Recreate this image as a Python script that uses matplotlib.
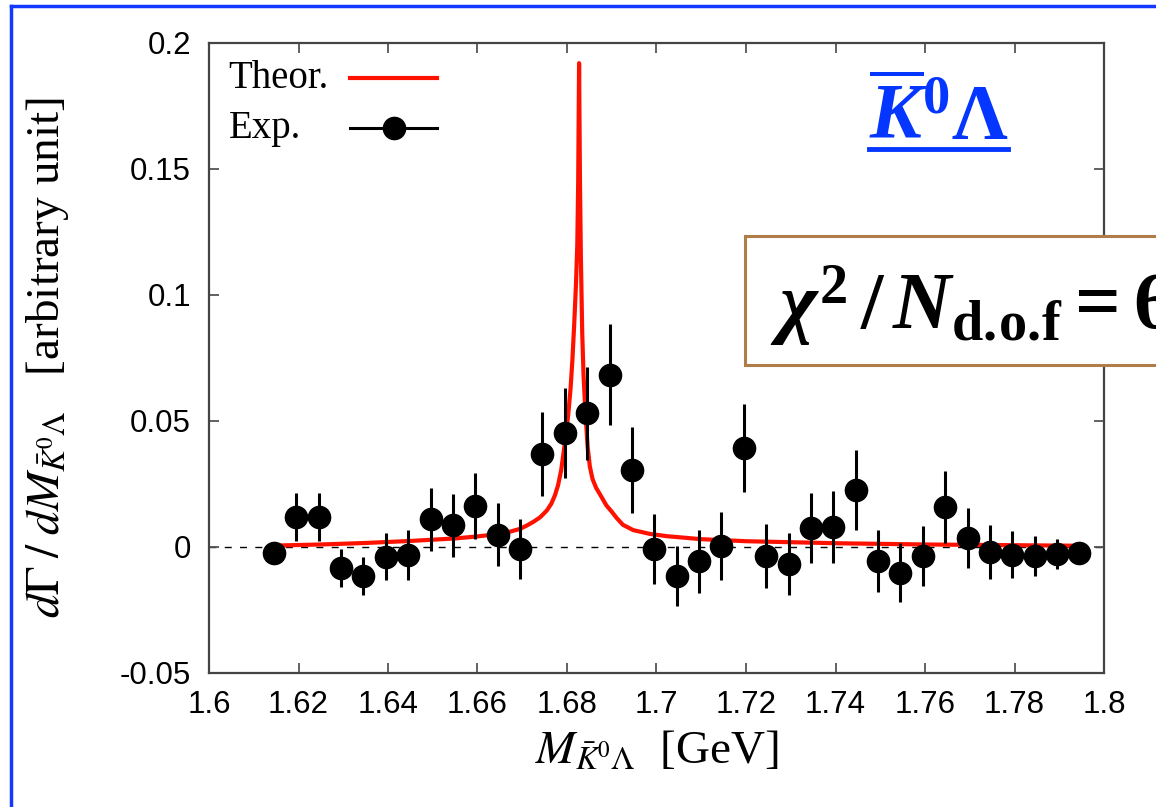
import numpy as np
import matplotlib
matplotlib.use("Agg")
import matplotlib.pyplot as plt
from matplotlib.lines import Line2D
from matplotlib.patches import Rectangle

# experimental points (bin centres in GeV)
m_exp = [1.6145, 1.6195, 1.6245, 1.6295, 1.6345, 1.6395, 1.6445, 1.6495,
         1.6545, 1.6595, 1.6645, 1.6695, 1.6745, 1.6795, 1.6845, 1.6895,
         1.6945, 1.6995, 1.7045, 1.7095, 1.7145, 1.7195, 1.7245, 1.7295,
         1.7345, 1.7395, 1.7445, 1.7495, 1.7545, 1.7595, 1.7645, 1.7695,
         1.7745, 1.7795, 1.7845, 1.7895, 1.7945]
dgam_exp = [-0.0024, 0.0119, 0.0119, -0.0083, -0.0115, -0.0039, -0.0032, 0.0111,
            0.0087, 0.0163, 0.0048, -0.0008, 0.0369, 0.0452, 0.0531, 0.0683,
            0.0306, -0.0008, -0.0115, -0.0056, 0.0004, 0.0392, -0.0035, -0.0068,
            0.0075, 0.0080, 0.0226, -0.0056, -0.0103, -0.0036, 0.0159, 0.0036,
            -0.0020, -0.0030, -0.0036, -0.0028, -0.0024]
err_exp = [0.0040, 0.0097, 0.0097, 0.0075, 0.0075, 0.0093, 0.0099, 0.0125,
           0.0125, 0.0130, 0.0125, 0.0120, 0.0168, 0.0178, 0.0185, 0.0200,
           0.0170, 0.0140, 0.0120, 0.0125, 0.0135, 0.0175, 0.0127, 0.0124,
           0.0140, 0.0143, 0.0160, 0.0123, 0.0117, 0.0120, 0.0142, 0.0120,
           0.0106, 0.0094, 0.0080, 0.0060, 0.0040]

# theoretical line shape
m_th = [1.6155, 1.625, 1.635, 1.645, 1.655, 1.660, 1.665, 1.6675, 1.6695,
        1.671, 1.6725, 1.674, 1.6755, 1.6765, 1.6773, 1.678, 1.6787, 1.6792,
        1.6798, 1.6803, 1.6808, 1.6812, 1.6816, 1.6820, 1.6823, 1.6825, 1.6827,
        1.6829, 1.6831, 1.6834, 1.6837, 1.6841, 1.6846, 1.6851, 1.6857, 1.6865,
        1.6875, 1.6888, 1.6900, 1.6911, 1.6925, 1.6948, 1.6985, 1.7023,
        1.710, 1.720, 1.740, 1.760, 1.7945]
dgam_th = [0.0006, 0.0010, 0.0016, 0.0024, 0.0034, 0.0042, 0.0052, 0.0062, 0.0072,
           0.0085, 0.0100, 0.0118, 0.0145, 0.0172, 0.0205, 0.0245, 0.0305, 0.0370,
           0.0450, 0.0530, 0.0630, 0.0740, 0.0880, 0.1040, 0.1200, 0.1450, 0.1920,
           0.1450, 0.1150, 0.0850, 0.0680, 0.0540, 0.0400, 0.0320, 0.0270, 0.0235,
           0.0205, 0.0165, 0.0140, 0.0115, 0.0088, 0.0067, 0.0052, 0.0043,
           0.0031, 0.0023, 0.0015, 0.0010, 0.0005]

xticks = [1.6, 1.62, 1.64, 1.66, 1.68, 1.7, 1.72, 1.74, 1.76, 1.78, 1.8]
xticklabels = ['1.6', '1.62', '1.64', '1.66', '1.68', '1.7', '1.72', '1.74', '1.76', '1.78', '1.8']
yticks = [-0.05, 0, 0.05, 0.1, 0.15, 0.2]
yticklabels = ['-0.05', '0', '0.05', '0.1', '0.15', '0.2']
legend_labels = ['Theor.', 'Exp.']

plt.rcParams['mathtext.fontset'] = 'stix'
plt.rcParams['mathtext.rm'] = 'Liberation Serif:bold'
plt.rcParams['mathtext.it'] = 'Liberation Serif:italic:bold'
plt.rcParams['mathtext.bf'] = 'Liberation Serif:bold'

W, H = 1156, 807
RED = '#ff1100'
fig = plt.figure(figsize=(W / 100, H / 100), dpi=100)
ax = fig.add_axes([209 / W, 1 - 673 / H, (1104 - 209) / W, (673 - 43) / H])

ax.axhline(0, color='k', lw=1.0, ls=(0, (5, 6)), zorder=1)
ax.plot(m_th, dgam_th, color=RED, lw=3, zorder=2, solid_joinstyle='round')
ax.errorbar(m_exp, dgam_exp, yerr=err_exp, fmt='o', color='k', ms=16,
            elinewidth=2.2, capsize=0, zorder=3)

ax.set_xlim(1.6, 1.8)
ax.set_ylim(-0.05, 0.2)
ax.set_xticks(xticks)
ax.set_xticklabels(xticklabels)
ax.set_yticks(yticks)
ax.set_yticklabels(yticklabels)
for lab in ax.get_xticklabels() + ax.get_yticklabels():
    lab.set_fontfamily('Liberation Sans')
    lab.set_fontsize(22.5)
ax.tick_params(direction='in', length=7, width=1.3, color='#555555',
               top=True, right=True)
ax.tick_params(axis='y', pad=13)
ax.tick_params(axis='x', pad=12)
for sp in ax.spines.values():
    sp.set_color('#444444')
    sp.set_linewidth(1.6)

ax.set_xlabel(r'$M_{\bar{K}^0\Lambda}$  [GeV]', fontsize=34,
              family='Liberation Serif', labelpad=8)
ax.set_ylabel(r'$d\Gamma\;/\;dM_{\bar{K}^0\Lambda}$   [arbitrary unit]', fontsize=34,
              family='Liberation Serif', labelpad=35)

# key, gnuplot style: text left-aligned, sample to the right
leg_font = {'family': 'Liberation Serif', 'size': 28}
ax.text(0.022, 0.944, legend_labels[0], transform=ax.transAxes, va='center', ha='left', **leg_font)
ax.text(0.022, 0.865, legend_labels[1], transform=ax.transAxes, va='center', ha='left', **leg_font)
ax.add_line(Line2D([0.158, 0.255], [0.944, 0.944], transform=ax.transAxes, color=RED, lw=3))
ax.add_line(Line2D([0.158, 0.255], [0.865, 0.865], transform=ax.transAxes, color='k', lw=2.2))
ax.add_line(Line2D([0.2065], [0.865], transform=ax.transAxes, color='k', marker='o', ms=16))

# blue frame of the slide
fig.add_artist(Line2D([11 / W, 11 / W], [0, 1 - 6 / H], color='#1438ff', lw=2.5))
fig.add_artist(Line2D([11 / W, 1], [1 - 6 / H, 1 - 6 / H], color='#1438ff', lw=2.5))

# channel label
t = fig.text(869 / W, 1 - 139 / H, r'$\overline{K}^{0}\Lambda$', color='#0536ff',
             fontsize=56, math_fontfamily='custom', va='baseline')
fig.canvas.draw()
bb = t.get_window_extent()
fig.add_artist(Line2D([bb.x0 / W, bb.x1 / W], [1 - 149 / H, 1 - 149 / H],
                      color='#0536ff', lw=3.5))

# chi^2 box
fig.add_artist(Rectangle((745 / W, 1 - 365 / H), 0.4, (365 - 236) / H,
                         facecolor='white', edgecolor='#b07c48', lw=2.2, zorder=5))
fig.text(770 / W, 1 - 330 / H, r'$\chi^2\,/\,N_{\mathrm{d.\!o.\!f}} = 6$', color='k',
         fontsize=58, math_fontfamily='custom', va='baseline', zorder=6)

fig.savefig('out.png', dpi=100)
